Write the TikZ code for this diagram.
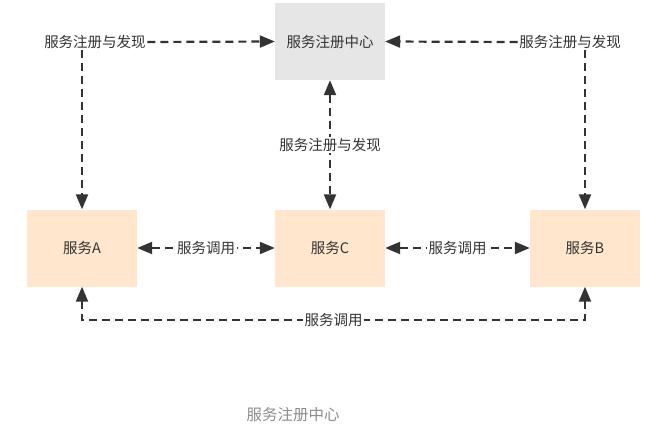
\documentclass[tikz,border=0pt]{standalone}
\usepackage{fontspec}
\setmainfont{Noto Sans CJK SC}
\usetikzlibrary{arrows.meta}
\definecolor{txt}{HTML}{333333}
\definecolor{regfill}{HTML}{E6E6E6}
\definecolor{svcfill}{HTML}{FFE6CC}
\definecolor{capgray}{HTML}{8C8C8C}
\tikzset{
  box/.style={minimum width=110pt, minimum height=77pt, inner sep=0pt, text=txt, font=\fontsize{14.5}{16}\selectfont},
  regbox/.style={box, fill=regfill},
  svcbox/.style={box, fill=svcfill},
  lbl/.style={fill=white, text=txt, inner sep=1.5pt, font=\fontsize{14.5}{16}\selectfont},
  conn/.style={draw=txt, line width=2.2pt, dash pattern=on 8pt off 5pt,
    arrows={-Triangle[length=15pt,width=12pt,fill=txt]}},
  conn2/.style={conn, arrows={Triangle[length=15pt,width=12pt,fill=txt]-Triangle[length=15pt,width=12pt,fill=txt]}}
}
\begin{document}
\begin{tikzpicture}[x=1pt,y=-1pt]
\useasboundingbox (0,0) rectangle (665,440);
\node[regbox] (reg) at (330,41.5) {服务注册中心};
\node[svcbox] (A) at (82,248) {服务A};
\node[svcbox] (C) at (330,248) {服务C};
\node[svcbox] (B) at (585,248) {服务B};
\node[lbl] (l1) at (95,42) {服务注册与发现};
\node[lbl] (l2) at (570,42) {服务注册与发现};
\coordinate (bot) at (0,320);
\draw[conn] (l1.east) -- (reg.west);
\draw[conn] (l2.west) -- (reg.east);
\draw[conn] (A.north |- l1.south) -- (A.north);
\draw[conn] (B.north |- l2.south) -- (B.north);
\draw[conn2] (reg.south) -- node[lbl]{服务注册与发现} (C.north);
\draw[conn2] (A.east) -- node[lbl]{服务调用} (C.west);
\draw[conn2] (C.east) -- node[lbl]{服务调用} (B.west);
\draw[conn2] (A.south) -- (A.south |- bot) -- node[lbl]{服务调用} (B.south |- bot) -- (B.south);
\node[text=capgray, font=\fontsize{15.5}{17}\selectfont] (cap) at (293,415) {服务注册中心};
\end{tikzpicture}
\end{document}
